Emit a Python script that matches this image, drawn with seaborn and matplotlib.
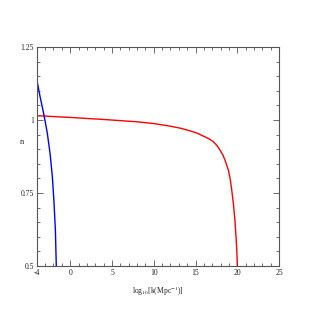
import matplotlib
matplotlib.use("Agg")
import matplotlib.pyplot as plt
from matplotlib.ticker import MultipleLocator
import seaborn as sns
import pandas as pd

# curve data
red_x = [-4, 0, 4, 8, 10, 12, 13.2, 14.34, 15.2, 15.93, 16.6, 17.12, 17.55, 17.93, 18.25, 18.52, 18.92, 19.15, 19.33, 19.52, 19.7, 19.84, 19.94, 20.0]
red_n = [1.015, 1.009, 1.002, 0.994, 0.988, 0.979, 0.972, 0.963, 0.955, 0.945, 0.936, 0.926, 0.913, 0.897, 0.881, 0.863, 0.829, 0.797, 0.760, 0.715, 0.66, 0.600, 0.55, 0.5]
blue_x = [-4.0, -3.6, -3.13, -2.73, -2.41, -2.13, -1.93, -1.77, -1.66]
blue_n = [1.139, 1.08, 1.017, 0.954, 0.886, 0.806, 0.715, 0.623, 0.5]

sns.set_style("ticks")
plt.rcParams['font.family'] = ['Liberation Serif', 'DejaVu Serif']
plt.rcParams['mathtext.fontset'] = 'stix'

red = pd.DataFrame({"x": red_x, "n": red_n})
blue = pd.DataFrame({"x": blue_x, "n": blue_n})

fig = plt.figure(figsize=(3.14, 3.14), dpi=100)
ax = fig.add_axes([0.117, 0.153, 0.772, 0.697])
sns.lineplot(data=red, x="x", y="n", color="#ff0000", lw=1, sort=False, estimator=None, ax=ax)
sns.lineplot(data=blue, x="x", y="n", color="#0000ff", lw=1, sort=False, estimator=None, ax=ax)

ax.set_xlim(-4, 25)
ax.set_ylim(0.5, 1.25)
ax.set_xticks([-4, 0, 5, 10, 15, 20, 25])
ax.set_xticklabels(["-4", "0", "5", "10", "15", "20", "25"])
ax.set_yticks([0.5, 0.75, 1.0, 1.25])
ax.set_yticklabels(["0.5", "0.75", "1", "1.25"])
ax.xaxis.set_minor_locator(MultipleLocator(1))
ax.yaxis.set_minor_locator(MultipleLocator(0.05))
ax.tick_params(which="both", direction="in", top=True, right=True, colors="#555555",
               labelcolor="#222222", labelsize=5.5, pad=2)
ax.tick_params(which="major", length=4, width=0.6)
ax.tick_params(which="minor", length=2, width=0.6)
for s in ax.spines.values():
    s.set_color("#555555")
    s.set_linewidth(0.8)

ax.set_xlabel(r"log$_{10}$[k(Mpc$^{-1}$)]", fontsize=5.5, labelpad=6)
ax.set_ylabel("n", fontsize=6, rotation=0, labelpad=0)
ax.yaxis.set_label_coords(-0.06, 0.55)

fig.savefig("out.png", dpi=100)
